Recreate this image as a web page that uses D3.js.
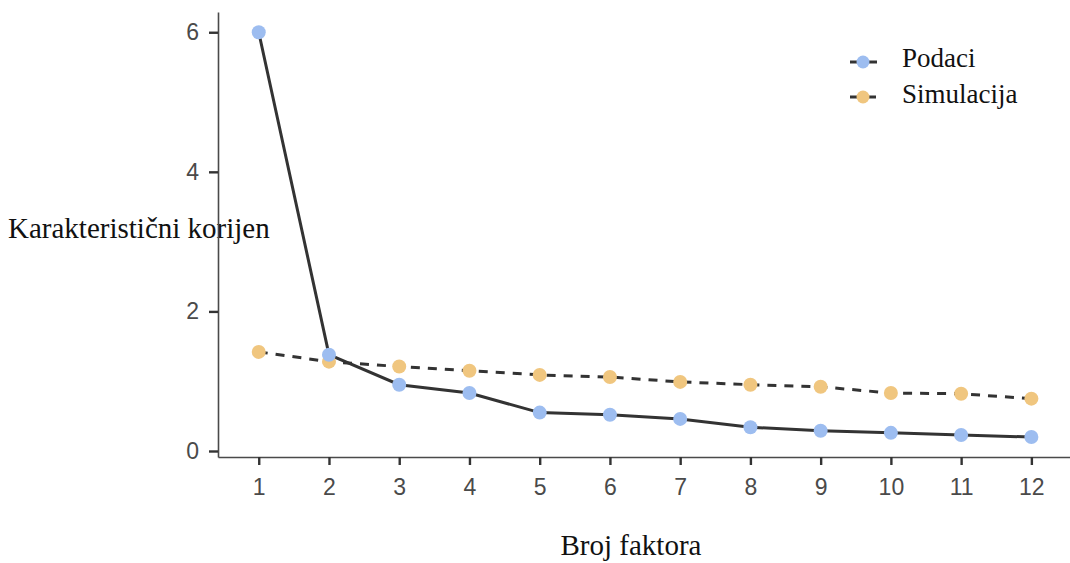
<!DOCTYPE html>
<html>
<head>
<meta charset="utf-8">
<script src="https://cdn.jsdelivr.net/npm/d3@7"></script>
<style>
  body { margin: 0; background: #fff; }
  svg { display: block; }
</style>
</head>
<body>
<svg id="chart" width="1070" height="563"></svg>
<script>
const factors = [1,2,3,4,5,6,7,8,9,10,11,12];
const podaci = [6.0,1.38,0.95,0.83,0.55,0.52,0.46,0.34,0.29,0.26,0.23,0.20];
const simulacija = [1.42,1.28,1.21,1.15,1.09,1.06,0.99,0.95,0.92,0.83,0.82,0.75];
const yTicks = [0,2,4,6];
const seriesNames = ["Podaci","Simulacija"];
const xTitle = "Broj faktora";
const yTitle = "Karakteristični korijen";

const blue = "#9dbdf0", orange = "#f0c67f", lineCol = "#333333", axisCol = "#4a4a4a";

const svg = d3.select("#chart");
const x = d3.scaleLinear().domain([0.42, 12.55]).range([218, 1070]);
const y = d3.scaleLinear().domain([-0.086, 6.29]).range([457, 12]);

const tickFont = "'Liberation Sans', Arial, sans-serif";
const serif = "'Liberation Serif', 'Times New Roman', serif";

// titles (drawn first so axis line passes over)
svg.append("text").attr("x", 8).attr("y", 238).attr("font-family", serif).attr("font-size", 29).attr("fill", "#111").text(yTitle);
svg.append("text").attr("x", 631).attr("y", 555).attr("text-anchor", "middle").attr("font-family", serif).attr("font-size", 29).attr("fill", "#111").text(xTitle);

// axes
const xAxis = svg.append("g").attr("transform", "translate(0,457)")
  .call(d3.axisBottom(x).tickValues(factors).tickSize(8).tickSizeOuter(0).tickPadding(14).tickFormat(d3.format("d")));
const yAxis = svg.append("g").attr("transform", "translate(218,0)")
  .call(d3.axisLeft(y).tickValues(yTicks).tickSize(9).tickSizeOuter(0).tickPadding(10).tickFormat(d3.format("d")));
[xAxis, yAxis].forEach(g => {
  g.select(".domain").attr("stroke", axisCol).attr("stroke-width", 1.6);
  g.selectAll(".tick line").attr("stroke", "#333").attr("stroke-width", 2.4);
  g.selectAll(".tick text").attr("fill", axisCol).attr("font-family", tickFont).attr("font-size", 23);
});

// lines
const line = d3.line().x((d,i) => x(factors[i])).y(d => y(d));
svg.append("path").datum(simulacija).attr("d", line).attr("fill", "none")
  .attr("stroke", lineCol).attr("stroke-width", 3).attr("stroke-dasharray", "9,8");
svg.append("path").datum(podaci).attr("d", line).attr("fill", "none")
  .attr("stroke", lineCol).attr("stroke-width", 3);

// points
svg.append("g").selectAll("circle").data(simulacija).join("circle")
  .attr("cx", (d,i) => x(factors[i])).attr("cy", d => y(d)).attr("r", 7).attr("fill", orange);
svg.append("g").selectAll("circle").data(podaci).join("circle")
  .attr("cx", (d,i) => x(factors[i])).attr("cy", d => y(d)).attr("r", 7).attr("fill", blue);

// legend
const legend = svg.append("g");
const legItems = [{name: seriesNames[0], col: blue, dash: null, yy: 62, ty: 67},
                  {name: seriesNames[1], col: orange, dash: "9,8", yy: 97, ty: 103}];
legItems.forEach(it => {
  legend.append("line").attr("x1", 850).attr("x2", 877).attr("y1", it.yy).attr("y2", it.yy)
    .attr("stroke", lineCol).attr("stroke-width", 3).attr("stroke-dasharray", it.dash ? "8,10" : null);
  legend.append("circle").attr("cx", 863).attr("cy", it.yy).attr("r", 6.5).attr("fill", it.col);
  legend.append("text").attr("x", 902).attr("y", it.ty).attr("font-family", serif)
    .attr("font-size", 27).attr("fill", "#111").text(it.name);
});
</script>
</body>
</html>
